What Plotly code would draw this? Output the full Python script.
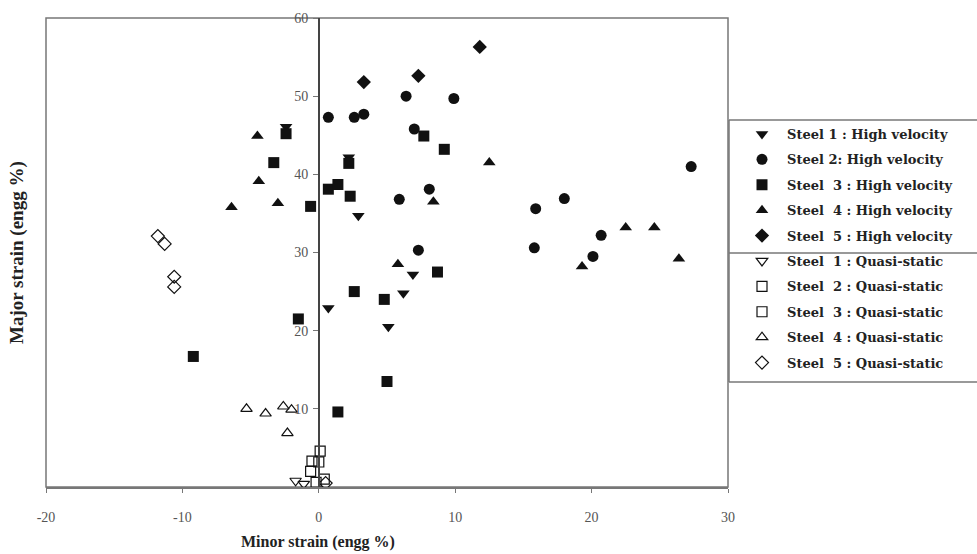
import plotly.graph_objects as go

# ---------------- data (minor strain x, major strain y, engg %) ----------------
s1_hv_x = [-2.4, 2.2, 2.9, 0.7, 5.1, 6.2, 6.9]
s1_hv_y = [46.1, 42.2, 34.7, 22.9, 20.5, 24.8, 27.2]

s2_hv_x = [0.7, 2.6, 3.3, 6.4, 9.9, 7.0, 8.1, 5.9, 7.3, 15.9, 18.0, 15.8, 20.7, 20.1, 27.3]
s2_hv_y = [47.3, 47.3, 47.7, 50.0, 49.7, 45.8, 38.1, 36.8, 30.3, 35.6, 36.9, 30.6, 32.2, 29.5, 41.0]

s3_hv_x = [-2.4, -3.3, -0.6, 0.7, 1.4, 2.3, 2.2, 7.7, 9.2, 8.7, 2.6, 4.8, 5.0, 1.4, -1.5, -9.2]
s3_hv_y = [45.2, 41.5, 35.9, 38.1, 38.7, 37.2, 41.4, 44.9, 43.2, 27.5, 25.0, 24.0, 13.5, 9.6, 21.5, 16.7]

s4_hv_x = [-4.5, -4.4, -6.4, -3.0, 8.4, 12.5, 5.8, 19.3, 22.5, 24.6, 26.4]
s4_hv_y = [44.9, 39.1, 35.8, 36.3, 36.5, 41.5, 28.5, 28.2, 33.2, 33.2, 29.2]

s5_hv_x = [3.3, 7.3, 11.8]
s5_hv_y = [51.8, 52.6, 56.3]

s1_qs_x = [-1.7, -1.1]
s1_qs_y = [0.8, 0.4]
s2_qs_x = [0.1, -0.5, 0.4]
s2_qs_y = [4.6, 3.3, 1.0]
s3_qs_x = [-0.6, 0.0, -0.2]
s3_qs_y = [2.0, 3.2, 0.6]
s4_qs_x = [-5.3, -3.9, -2.6, -2.0, -2.3]
s4_qs_y = [10.0, 9.4, 10.3, 9.9, 6.9]
s5_qs_x = [-11.8, -11.3, -10.6, -10.6, 0.5]
s5_qs_y = [32.1, 31.1, 26.9, 25.6, 0.5]

x_ticks = [-20, -10, 0, 10, 20, 30]
y_ticks = [10, 20, 30, 40, 50, 60]

series = [
    ("Steel 1 : High velocity", s1_hv_x, s1_hv_y, "triangle-down"),
    ("Steel 2: High velocity", s2_hv_x, s2_hv_y, "circle"),
    ("Steel  3 : High velocity", s3_hv_x, s3_hv_y, "square"),
    ("Steel  4 : High velocity", s4_hv_x, s4_hv_y, "triangle-up"),
    ("Steel  5 : High velocity", s5_hv_x, s5_hv_y, "diamond"),
    ("Steel  1 : Quasi-static", s1_qs_x, s1_qs_y, "triangle-down-open"),
    ("Steel  2 : Quasi-static", s2_qs_x, s2_qs_y, "square-open"),
    ("Steel  3 : Quasi-static", s3_qs_x, s3_qs_y, "square-open"),
    ("Steel  4 : Quasi-static", s4_qs_x, s4_qs_y, "triangle-up-open"),
    ("Steel  5 : Quasi-static", s5_qs_x, s5_qs_y, "diamond-open"),
]

SERIF = "Liberation Serif"

fig = go.Figure()
for i, (name, xs, ys, sym) in enumerate(series):
    is_open = sym.endswith("open")
    fig.add_trace(go.Scatter(
        x=xs, y=ys, mode="markers", name=name, legendgroup=f"g{i}",
        marker=dict(symbol=sym, size=11 if not is_open else 10,
                    color="#111111",
                    line=dict(color="#222222", width=1.2 if is_open else 0)),
    ))

L, R, T, B = 46, 249, 18, 67
W, H = 977, 554
pw = W - L - R
ph = H - T - B

fig.update_layout(
    width=W, height=H,
    margin=dict(l=L, r=R, t=T, b=B),
    paper_bgcolor="white", plot_bgcolor="white",
    showlegend=True,
    legend=dict(
        x=(737 - L) / pw, xanchor="left",
        y=(H - B - 119) / ph, yanchor="top",
        bgcolor="rgba(255,255,255,0)",
        borderwidth=0,
        font=dict(family="DejaVu Serif", size=13, color="#222", weight="bold"),
        traceorder="grouped", tracegroupgap=5.5,
        itemwidth=40,
    ),
    xaxis=dict(
        range=[-20, 30], tickvals=x_ticks, ticktext=[str(v) for v in x_ticks],
        showgrid=False, zeroline=False, showline=True, linecolor="#777", linewidth=1.5,
        ticks="outside", ticklen=4, tickcolor="#777", ticklabelstandoff=12,
        tickfont=dict(family=SERIF, size=14, color="#555"),
    ),
    yaxis=dict(
        range=[0, 60], tickvals=y_ticks, ticktext=[str(v) for v in y_ticks],
        showgrid=False, zeroline=False, showline=True, linecolor="#444", linewidth=1.5,
        anchor="free", position=0.4,
        ticks="outside", ticklen=5, tickcolor="#777", ticklabelstandoff=2,
        tickfont=dict(family=SERIF, size=14, color="#555"),
    ),
)

# plot frame
fig.add_shape(type="rect", xref="paper", yref="paper", x0=0, y0=0, x1=1, y1=1,
              line=dict(color="#777", width=1.5), layer="below")
# legend box lines (top, separator, bottom, left)
lx0 = (729 - L) / pw
lx1 = (W + 5 - L) / pw
def py(p):
    return (H - B - p) / ph
for ypix in (120, 253, 382):
    fig.add_shape(type="line", xref="paper", yref="paper", x0=lx0, x1=lx1,
                  y0=py(ypix), y1=py(ypix), line=dict(color="#777", width=1.5))
fig.add_shape(type="line", xref="paper", yref="paper", x0=lx0, x1=lx0,
              y0=py(120), y1=py(382), line=dict(color="#777", width=1.5))

# axis titles
fig.add_annotation(text="Minor strain (engg %)", xref="paper", yref="paper",
                   x=(318 - L) / pw, y=py(542), showarrow=False,
                   xanchor="center", yanchor="middle",
                   font=dict(family=SERIF, size=16, color="#222", weight="bold"))
fig.add_annotation(text="Major strain (engg %)", xref="paper", yref="paper",
                   x=(17 - L) / pw, y=py(253), showarrow=False, textangle=-90,
                   xanchor="center", yanchor="middle",
                   font=dict(family=SERIF, size=19, color="#222", weight="bold"))

fig.write_html("out.html")
